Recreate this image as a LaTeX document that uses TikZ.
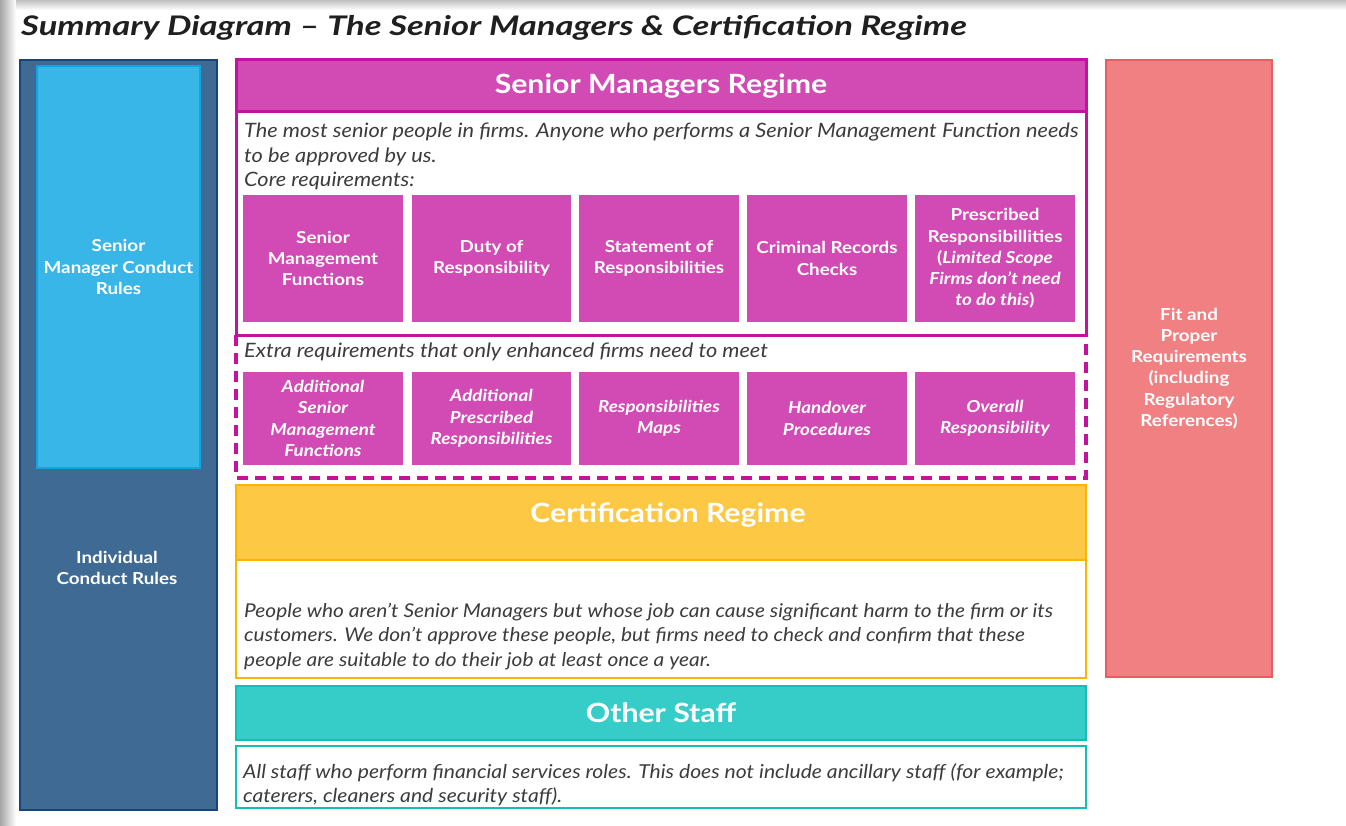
\documentclass[tikz,border=0pt]{standalone}
\usepackage{fontspec}
\setmainfont{Lato}
\newfontfamily\widef[FakeStretch=1.14,Ligatures=TeX]{Lato}
\newfontfamily\descf[FakeStretch=1.1,Ligatures=TeX]{Lato}
\newfontfamily\titlef[FakeStretch=1.28,Ligatures=TeX]{Lato}
\definecolor{dkblue}{HTML}{3F6A94}
\definecolor{dkblueB}{HTML}{17457A}
\definecolor{ltblue}{HTML}{38B6E8}
\definecolor{ltblueB}{HTML}{12A4DE}
\definecolor{mag}{HTML}{D24BB5}
\definecolor{magB}{HTML}{C4129D}
\definecolor{yel}{HTML}{FDC844}
\definecolor{yelB}{HTML}{FBB400}
\definecolor{teal}{HTML}{36CDC8}
\definecolor{tealB}{HTML}{14BDB6}
\definecolor{salm}{HTML}{F18082}
\definecolor{salmB}{HTML}{E95C60}
\definecolor{greytxt}{HTML}{3C3C3C}
\tikzset{
  pxbox/.style={rectangle, inner sep=0pt, outer sep=0pt, anchor=north west},
  whitelbl/.style={text=white, align=center, font=\widef\fontsize{16.5}{21.3}\selectfont\bfseries},
  corebox/.style={pxbox, fill=mag, draw=white, line width=1.5pt, minimum width=162pt, whitelbl},
  extrabox/.style={pxbox, fill=mag, draw=white, line width=1.5pt, minimum width=162pt, whitelbl, font=\widef\fontsize{16.5}{21.3}\selectfont\bfseries\itshape},
  desc/.style={anchor=north west, inner sep=0pt, text=greytxt, align=left, font=\descf\fontsize{19.8}{24.5}\selectfont\itshape},
  headtxt/.style={text=white, font=\widef\fontsize{26.5}{30}\selectfont\bfseries},
}
\begin{document}
\begin{tikzpicture}[x=1pt,y=-1pt]
\useasboundingbox (0,0) rectangle (1346,826);
\fill[white] (0,0) rectangle (1346,826);
% screenshot frame shadow
\shade[left color=gray!70, right color=white] (0,0) rectangle (16,826);
\shade[top color=gray!50, bottom color=white] (16,0) rectangle (1346,10);
% title
\node[anchor=base west, inner sep=0pt, font=\titlef\fontsize{27}{30}\selectfont\bfseries\itshape, text=black!88] (title) at (21,36) {Summary Diagram – The Senior Managers \& Certification Regime};
% left column
\node[pxbox, fill=dkblue, draw=dkblueB, line width=2pt, minimum width=197pt, minimum height=750pt] (icr) at (20,60) {};
\node[pxbox, fill=ltblue, draw=ltblueB, line width=1.5pt, minimum width=163pt, minimum height=402pt, whitelbl] (smcr) at (37,66) {Senior\\Manager Conduct\\Rules};
\node[whitelbl] (icrt) at (117,568) {Individual\\Conduct Rules};
% right column
\node[pxbox, fill=salm, draw=salmB, line width=2pt, minimum width=166pt, minimum height=617pt, whitelbl] (fp) at (1106,60) {Fit and\\Proper\\Requirements\\(including\\Regulatory\\References)};
% Senior Managers Regime
\node[pxbox, fill=white, draw=magB, line width=3pt, minimum width=850pt, minimum height=275pt] (smr) at (236,60) {};
\node[pxbox, fill=mag, draw=magB, line width=3pt, minimum width=850pt, minimum height=52pt, headtxt] (smrh) at (236,60) {Senior Managers Regime};
\node[desc] (smrd) at (244,123) {The most senior people in firms. Anyone who performs a Senior Management Function needs\\to be approved by us.\\Core requirements:};
\node[corebox, minimum height=129pt] (c1) at (242,194) {Senior\\Management\\Functions};
\node[corebox, minimum height=129pt, minimum width=161pt] (c2) at (411,194) {Duty of\\Responsibility};
\node[corebox, minimum height=129pt] (c3) at (578,194) {Statement of\\Responsibilities};
\node[corebox, minimum height=129pt] (c4) at (746,194) {Criminal Records\\Checks};
\node[corebox, minimum height=129pt] (c5) at (914,194) {Prescribed\\Responsibillities\\(\textit{Limited Scope}\\\textit{Firms don’t need}\\\textit{to do this})};
% enhanced
\draw[magB, line width=3.5pt, dash pattern=on 11pt off 7pt] (236,335) -- (236,478) -- (1086,478) -- (1086,335);
\node[desc, anchor=west] (exd) at (244,352) {Extra requirements that only enhanced firms need to meet};
\node[extrabox, minimum height=95pt] (e1) at (242,371) {Additional\\Senior\\Management\\Functions};
\node[extrabox, minimum height=95pt, minimum width=161pt] (e2) at (411,371) {Additional\\Prescribed\\Responsibilities};
\node[extrabox, minimum height=95pt] (e3) at (578,371) {Responsibilities\\Maps};
\node[extrabox, minimum height=95pt] (e4) at (746,371) {Handover\\Procedures};
\node[extrabox, minimum height=95pt] (e5) at (914,371) {Overall\\Responsibility};
% Certification Regime
\node[pxbox, fill=white, draw=yelB, line width=2.5pt, minimum width=850pt, minimum height=193pt] (cr) at (236,485) {};
\node[pxbox, fill=yel, draw=yelB, line width=2.5pt, minimum width=850pt, minimum height=75pt, headtxt] (crh) at (236,485) {\hspace*{14pt}\raisebox{20pt}{Certification Regime}};
\node[desc, font=\descf\fontsize{19}{24.5}\selectfont\itshape] (crd) at (244,603) {People who aren’t Senior Managers but whose job can cause significant harm to the firm or its\\customers. We don’t approve these people, but firms need to check and confirm that these\\people are suitable to do their job at least once a year.};
% Other Staff
\node[pxbox, fill=teal, draw=tealB, line width=2.5pt, minimum width=850pt, minimum height=54pt, headtxt] (osh) at (236,686) {Other Staff};
\node[pxbox, fill=white, draw=tealB, line width=2.5pt, minimum width=850pt, minimum height=62pt] (os) at (236,746) {};
\node[desc, font=\descf\fontsize{19.2}{24.5}\selectfont\itshape] (osd) at (243,763) {All staff who perform financial services roles. This does not include ancillary staff (for example;\\caterers, cleaners and security staff).};
\end{tikzpicture}
\end{document}
